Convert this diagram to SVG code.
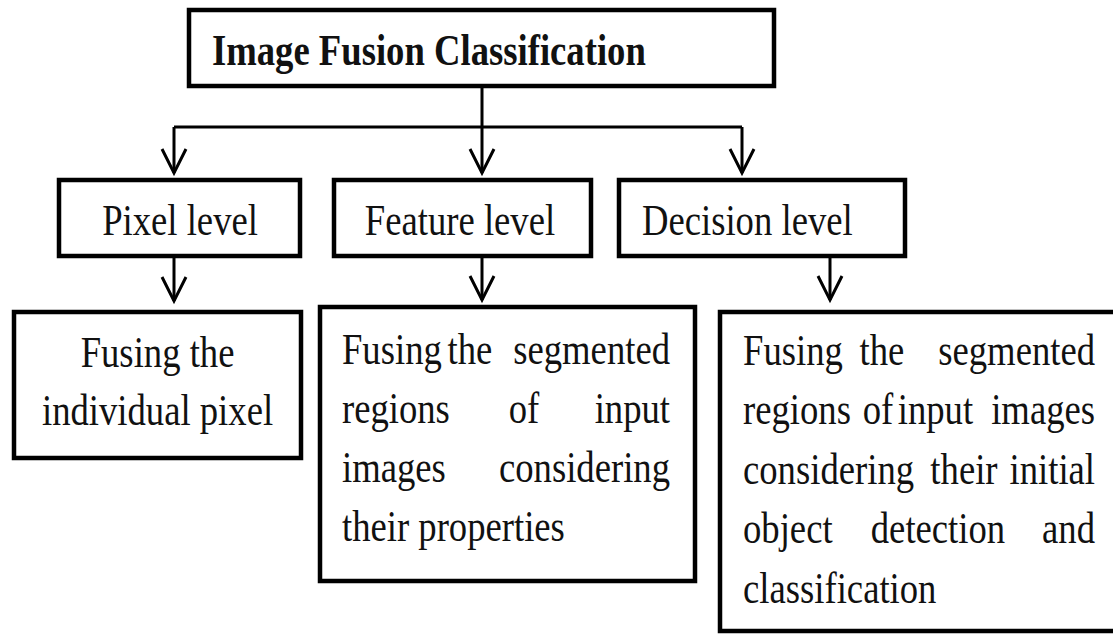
<svg xmlns="http://www.w3.org/2000/svg" width="1113" height="635" viewBox="0 0 1113 635">
<defs>
<marker id="arr" markerUnits="userSpaceOnUse" markerWidth="30" markerHeight="30" refX="0" refY="0" orient="auto" overflow="visible">
<path d="M -24 -12 L 0 0 L -24 12" fill="none" stroke="#000" stroke-width="3" stroke-linejoin="miter"/>
</marker>
<style>
.box{fill:#fff;stroke:#000;stroke-width:4.5}
.ln{fill:none;stroke:#000;stroke-width:3}
.t{font-family:"Liberation Serif","Times New Roman",serif;font-size:45px;fill:#111}
.b{font-weight:bold}
.m{text-anchor:middle}
.e{text-anchor:end}
</style>
</defs>
<rect width="1113" height="635" fill="#fff"/>
<g id="connectors">
<path class="ln" d="M482 88 V127 M174 127 H742"/>
<path class="ln" d="M174 127 V173" marker-end="url(#arr)"/>
<path class="ln" d="M482 127 V173" marker-end="url(#arr)"/>
<path class="ln" d="M742 127 V173" marker-end="url(#arr)"/>
<path class="ln" d="M174 258 V301" marker-end="url(#arr)"/>
<path class="ln" d="M482 258 V300" marker-end="url(#arr)"/>
<path class="ln" d="M830 256 V300" marker-end="url(#arr)"/>
</g>
<g id="title">
<rect class="box" x="189" y="10" width="585" height="76"/>
<text class="t b" transform="scale(0.815 1)" x="260.1" y="65">Image Fusion Classification</text>
</g>
<g id="pixel-level">
<rect class="box" x="59" y="180" width="241" height="76"/>
<text class="t m" transform="scale(0.815 1)" x="220.9" y="235">Pixel level</text>
</g>
<g id="feature-level">
<rect class="box" x="334" y="180" width="257" height="76"/>
<text class="t m" transform="scale(0.815 1)" x="564.4" y="235">Feature level</text>
</g>
<g id="decision-level">
<rect class="box" x="619" y="180" width="286" height="76"/>
<text class="t" transform="scale(0.815 1)" x="787.7" y="235">Decision level</text>
</g>
<g id="pixel-desc">
<rect class="box" x="14" y="312" width="287" height="146"/>
<text class="t m" transform="scale(0.815 1)" x="193.3" y="367">Fusing the</text>
<text class="t m" transform="scale(0.815 1)" x="193.3" y="425">individual pixel</text>
</g>
<g id="feature-desc">
<rect class="box" x="320" y="307" width="375" height="274"/>
<text class="t" transform="scale(0.815 1)" y="364"><tspan x="419.6">Fusing</tspan><tspan class="m" x="576.7"> the </tspan><tspan class="e" x="822.1">segmented</tspan></text>
<text class="t" transform="scale(0.815 1)" y="423"><tspan x="419.6">regions</tspan><tspan class="m" x="642.9"> of </tspan><tspan class="e" x="822.1">input</tspan></text>
<text class="t" transform="scale(0.815 1)" y="482"><tspan x="419.6">images </tspan><tspan class="e" x="822.1">considering</tspan></text>
<text class="t" transform="scale(0.815 1)" x="419.6" y="541">their properties</text>
</g>
<g id="decision-desc">
<rect class="box" x="720" y="312" width="400" height="319"/>
<text class="t" transform="scale(0.815 1)" y="365"><tspan x="911.7">Fusing</tspan><tspan class="m" x="1082.2"> the </tspan><tspan class="e" x="1343.6">segmented</tspan></text>
<text class="t" transform="scale(0.815 1)" y="424"><tspan x="911.7">regions</tspan><tspan class="m" x="1077.3"> of </tspan><tspan class="m" x="1153.4"> input </tspan><tspan class="e" x="1343.6">images</tspan></text>
<text class="t" transform="scale(0.815 1)" y="484"><tspan x="911.7">considering</tspan><tspan class="m" x="1182.8"> their </tspan><tspan class="e" x="1343.6">initial</tspan></text>
<text class="t" transform="scale(0.815 1)" y="543"><tspan x="911.7">object</tspan><tspan class="m" x="1150.9"> detection </tspan><tspan class="e" x="1343.6">and</tspan></text>
<text class="t" transform="scale(0.815 1)" x="911.7" y="603">classification</text>
</g>
</svg>
